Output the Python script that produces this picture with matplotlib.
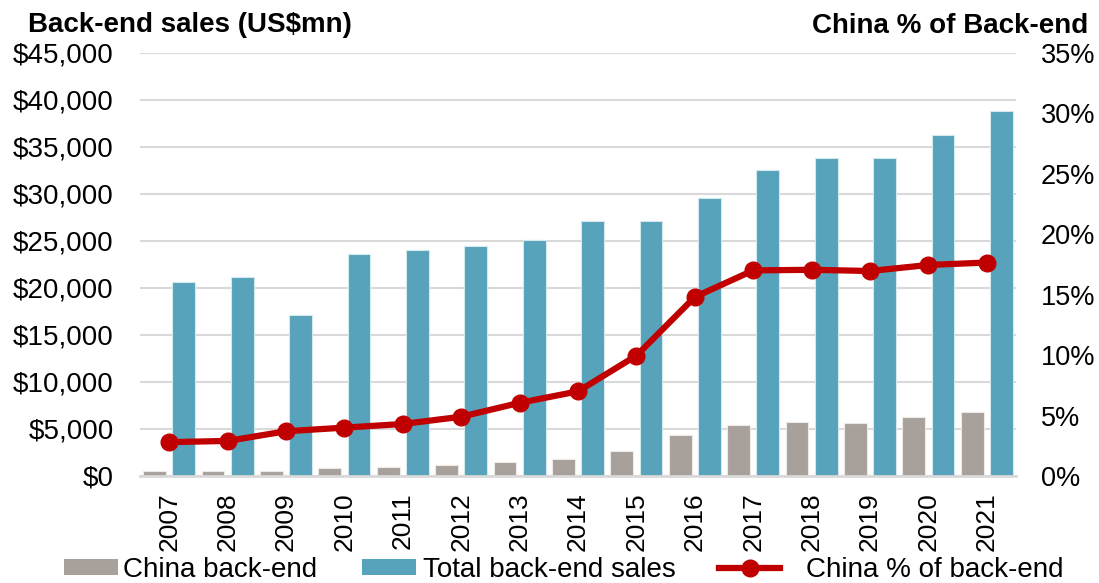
import matplotlib
matplotlib.use("Agg")
import matplotlib.pyplot as plt
from matplotlib.ticker import FuncFormatter, MultipleLocator
from matplotlib.lines import Line2D
from matplotlib.patches import Patch
import numpy as np

plt.rcParams["font.family"] = ["Liberation Sans", "DejaVu Sans"]

years = ["2007", "2008", "2009", "2010", "2011", "2012", "2013", "2014",
         "2015", "2016", "2017", "2018", "2019", "2020", "2021"]
china_backend = [560, 570, 570, 850, 960, 1140, 1460, 1840,
                 2630, 4330, 5460, 5710, 5670, 6250, 6780]
total_backend = [20600, 21200, 17100, 23550, 24000, 24500, 25100, 27100,
                 27100, 29550, 32550, 33850, 33850, 36250, 38750]
china_share = [2.8, 2.9, 3.7, 4.0, 4.3, 4.9, 6.05, 7.0,
               9.95, 14.8, 17.0, 17.05, 16.95, 17.45, 17.65]

GRAY = "#A8A09A"
BLUE = "#56A3BB"
RED = "#C00000"
GRID = "#D9D9D9"
FS = 20
W, H = 1099, 583

fig = plt.figure(figsize=(W / 100, H / 100), dpi=100)
ax = fig.add_axes([140 / W, 1 - 476 / H, 876 / W, (476 - 52.7) / H])
x = np.arange(len(years))

ax.bar(x - 0.25, china_backend, width=0.39, color=GRAY,
       edgecolor="#EDEAE8", linewidth=0.8, zorder=2)
ax.bar(x + 0.25, total_backend, width=0.39, color=BLUE,
       edgecolor="#D5E8EE", linewidth=0.8, zorder=2)

ax.set_xlim(-0.5, len(years) - 0.5)
ax.set_ylim(0, 45000)
ax.yaxis.set_major_locator(MultipleLocator(5000))
ax.yaxis.set_major_formatter(FuncFormatter(lambda v, p: f"${v:,.0f}"))
ax.grid(axis="y", color=GRID, linewidth=1.5, zorder=0)
ax.set_axisbelow(True)
for s in ["top", "right", "left"]:
    ax.spines[s].set_visible(False)
ax.spines["bottom"].set_color(GRID)
ax.spines["bottom"].set_linewidth(2)
ax.set_xticks(x)
ax.set_xticklabels(years, rotation=90, fontsize=19)
ax.tick_params(axis="x", length=0, pad=12)
ax.tick_params(axis="y", length=0, pad=19, labelsize=FS)

ax2 = ax.twinx()
ax2.plot(x, [v / 100 for v in china_share], color=RED, linewidth=4.5,
         marker="o", markersize=12, zorder=3)
ax2.set_ylim(0, 0.35)
ax2.yaxis.set_major_locator(MultipleLocator(0.05))
ax2.yaxis.set_major_formatter(FuncFormatter(lambda v, p: f"{v * 100:.0f}%"))
ax2.tick_params(axis="y", length=0, pad=18, labelsize=19.5)
for s in ax2.spines.values():
    s.set_visible(False)

fig.text(28 / W, 1 - 32 / H, "Back-end sales (US$mn)", fontsize=FS,
         fontweight="bold", ha="left", va="baseline")
fig.text(1088 / W, 1 - 33 / H, "China % of Back-end", fontsize=FS,
         fontweight="bold", ha="right", va="baseline")

# legend entries placed individually along the bottom edge
entries = [
    (Patch(facecolor=GRAY, edgecolor="none"), "China back-end", 64, 1.95, 0.18),
    (Patch(facecolor=BLUE, edgecolor="none"), "Total back-end sales", 362, 1.95, 0.25),
    (Line2D([0], [0], color=RED, linewidth=4.5, marker="o", markersize=12),
     "China % of back-end", 719, 2.2, 0.95),
]
for handle, label, x0, hl, pad in entries:
    fig.legend([handle], [label], loc="lower left",
               bbox_to_anchor=(x0 / W, 0.0), frameon=False,
               fontsize=FS, borderpad=0, borderaxespad=0,
               handlelength=hl, handleheight=0.47, handletextpad=pad)

fig.savefig("out.png", dpi=100)
